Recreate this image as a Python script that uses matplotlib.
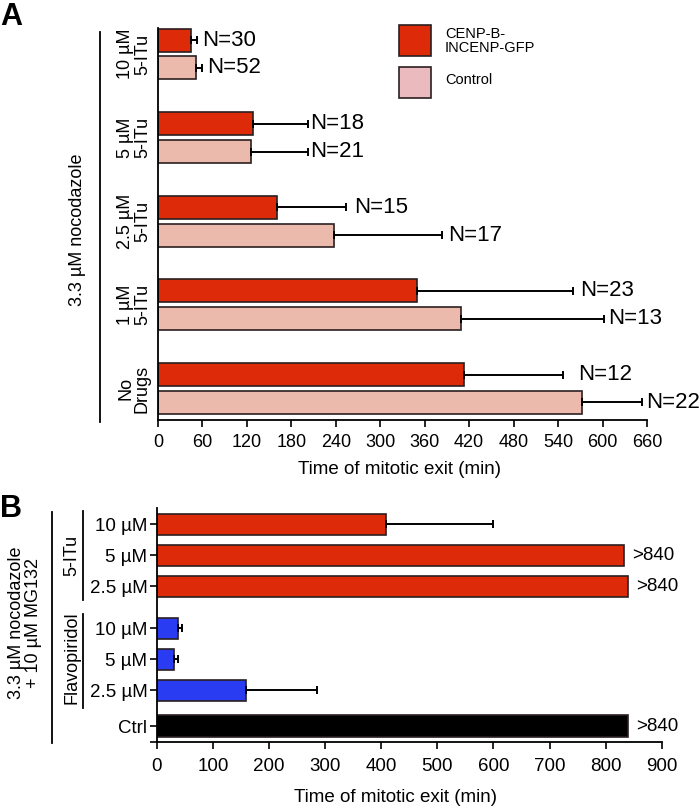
import matplotlib
matplotlib.use("Agg")
import matplotlib.pyplot as plt
from matplotlib.patches import Rectangle
import matplotlib.transforms as mtransforms
from matplotlib import font_manager
import numpy as np

plt.rcParams['font.family'] = ['Liberation Sans', 'DejaVu Sans']

# ---------------- Data: panel A ----------------
groups_a = ["10 µM\n5-ITu", "5 µM\n5-ITu", "2.5 µM\n5-ITu", "1 µM\n5-ITu", "No\nDrugs"]
cenp_vals = [44, 128, 161, 349, 413]
cenp_err = [8, 74, 93, 211, 133]
cenp_n = ["N=30", "N=18", "N=15", "N=23", "N=12"]
ctrl_vals = [51, 125, 237, 409, 572]
ctrl_err = [8, 77, 146, 193, 81]
ctrl_n = ["N=52", "N=21", "N=17", "N=13", "N=22"]
xticks_a = list(range(0, 661, 60))

# ---------------- Data: panel B ----------------
labels_b = ["10 µM", "5 µM", "2.5 µM", "10 µM", "5 µM", "2.5 µM", "Ctrl"]
vals_b = [408, 833, 840, 37, 31, 158, 840]
err_b = [192, 0, 0, 7, 6, 128, 0]
annot_b = ["", ">840", ">840", "", "", "", ">840"]
xticks_b = list(range(0, 901, 100))

RED = "#dd2b0a"
PINK = "#ecbaad"
LEG_PINK = "#ebbabf"
BLUE = "#2a3cf2"
EDGE = "#2a2020"

# condensed legend font if available
installed = {f.name for f in font_manager.fontManager.ttflist}
if 'Liberation Sans Narrow' in installed:
    leg_family, leg_size = ['Liberation Sans Narrow', 'DejaVu Sans'], 12
else:
    leg_family, leg_size = ['Liberation Sans', 'DejaVu Sans'], 10.5

W, H = 700, 808
fig = plt.figure(figsize=(W / 100, H / 100), dpi=100)

def fx(px):
    return px / W

def fy(py):
    return 1 - py / H

# ---------------- Panel A ----------------
axA = fig.add_axes([fx(158), fy(420), fx(647) - fx(158), fy(28) - fy(420)])
pos = np.arange(len(groups_a))
bh = 0.275
off = 0.167
axA.barh(pos - off, cenp_vals, height=bh, color=RED, edgecolor=EDGE, linewidth=1.2, zorder=2)
axA.barh(pos + off, ctrl_vals, height=bh, color=PINK, edgecolor=EDGE, linewidth=1.2, zorder=2)
axA.errorbar(cenp_vals, pos - off, xerr=[np.zeros(len(cenp_err)), cenp_err], fmt='none',
             ecolor='black', elinewidth=1.4, capsize=2.6, capthick=1.4, zorder=3)
axA.errorbar(ctrl_vals, pos + off, xerr=[np.zeros(len(ctrl_err)), ctrl_err], fmt='none',
             ecolor='black', elinewidth=1.4, capsize=2.6, capthick=1.4, zorder=3)

gap_c = [6, 2, 8, 7, 16]
gap_k = [5, 2, 6, 4, 4]
for i in range(len(groups_a)):
    axA.annotate(cenp_n[i], (cenp_vals[i] + cenp_err[i], pos[i] - off),
                 xytext=(gap_c[i] / 1.389, 0), textcoords='offset points',
                 ha='left', va='center', fontsize=16, annotation_clip=False)
    axA.annotate(ctrl_n[i], (ctrl_vals[i] + ctrl_err[i], pos[i] + off),
                 xytext=(gap_k[i] / 1.389, 0), textcoords='offset points',
                 ha='left', va='center', fontsize=16, annotation_clip=False)

axA.set_xlim(0, 660)
axA.set_ylim(4.377, -0.311)
axA.set_xticks(xticks_a)
axA.set_yticks([])
for s in ['top', 'right']:
    axA.spines[s].set_visible(False)
for s in ['left', 'bottom']:
    axA.spines[s].set_linewidth(1.3)
axA.tick_params(axis='x', length=5, width=1.2, labelsize=13, pad=5)
for i, g in enumerate(groups_a):
    trans = mtransforms.blended_transform_factory(axA.transAxes, axA.transData)
    axA.text((134 - 158) / 489, pos[i], g, transform=trans, rotation=90,
             ha='center', va='center', multialignment='center', fontsize=13,
             linespacing=1.0)
fig.text(fx(400), fy(470), "Time of mitotic exit (min)", ha='center', va='center', fontsize=13.5)
fig.add_artist(plt.Line2D([fx(100), fx(100)], [fy(32), fy(422)], color='black', lw=1.3))
fig.text(fx(77), fy(230), "3.3 µM nocodazole", rotation=90, ha='center', va='center', fontsize=13)
fig.text(fx(0), fy(17), "A", fontsize=22, fontweight='bold', ha='left', va='center')

# Legend
fig.add_artist(Rectangle((fx(399), fy(56)), fx(31.5), fy(25) - fy(56), transform=fig.transFigure,
                         facecolor=RED, edgecolor=EDGE, linewidth=1.2))
fig.add_artist(Rectangle((fx(399), fy(98)), fx(31.5), fy(67) - fy(98), transform=fig.transFigure,
                         facecolor=LEG_PINK, edgecolor=EDGE, linewidth=1.2))
fig.text(fx(445), fy(41), "CENP-B-\nINCENP-GFP", ha='left', va='center', fontsize=leg_size,
         family=leg_family, linespacing=0.95)
fig.text(fx(445), fy(80), "Control", ha='left', va='center', fontsize=leg_size,
         family=leg_family)

# ---------------- Panel B ----------------
axB = fig.add_axes([fx(157), fy(741.7), fx(661.7) - fx(157), fy(508) - fy(741.7)])
pos_b = np.array([0, 1, 2, 3.35, 4.35, 5.35, 6.5])
colors_b = [RED, RED, RED, BLUE, BLUE, BLUE, 'black']
axB.barh(pos_b, vals_b, height=0.69, color=colors_b, edgecolor=EDGE, linewidth=1.2, zorder=2)
ev = [i for i in range(len(vals_b)) if err_b[i] > 0]
axB.errorbar([vals_b[i] for i in ev], pos_b[ev],
             xerr=[np.zeros(len(ev)), [err_b[i] for i in ev]], fmt='none',
             ecolor='black', elinewidth=1.4, capsize=2.6, capthick=1.4, zorder=3)
for i, a in enumerate(annot_b):
    if a:
        axB.annotate(a, (vals_b[i], pos_b[i]), xytext=(6, 0), textcoords='offset points',
                     ha='left', va='center', fontsize=13.5, annotation_clip=False)
axB.set_xlim(0, 900)
axB.set_ylim(7.006, -0.53)
axB.set_xticks(xticks_b)
axB.set_yticks(pos_b)
axB.set_yticklabels(labels_b)
axB.set_yticks([7.0], minor=True)
for s in ['top', 'right']:
    axB.spines[s].set_visible(False)
for s in ['left', 'bottom']:
    axB.spines[s].set_linewidth(1.3)
axB.tick_params(axis='x', length=5, width=1.2, labelsize=13.5, pad=7)
axB.tick_params(axis='y', which='both', length=5, width=1.2, labelsize=13.5, pad=2)
fig.text(fx(396), fy(798), "Time of mitotic exit (min)", ha='center', va='center', fontsize=13.5)

fig.add_artist(plt.Line2D([fx(82.7), fx(82.7)], [fy(510.7), fy(600)], color='black', lw=1.3))
fig.add_artist(plt.Line2D([fx(82.7), fx(82.7)], [fy(614), fy(708)], color='black', lw=1.3))
fig.add_artist(plt.Line2D([fx(52), fx(52)], [fy(511.7), fy(743)], color='black', lw=1.3))
fig.text(fx(72), fy(555), "5-ITu", rotation=90, ha='center', va='center', fontsize=13)
fig.text(fx(72), fy(658), "Flavopiridol", rotation=90, ha='center', va='center', fontsize=13)
fig.text(fx(25), fy(623), "3.3 µM nocodazole\n+ 10 µM MG132", rotation=90, ha='center', va='center',
         multialignment='center', fontsize=13, linespacing=0.95)
fig.text(fx(0), fy(509), "B", fontsize=22, fontweight='bold', ha='left', va='center')

fig.savefig("out.png", dpi=100)
